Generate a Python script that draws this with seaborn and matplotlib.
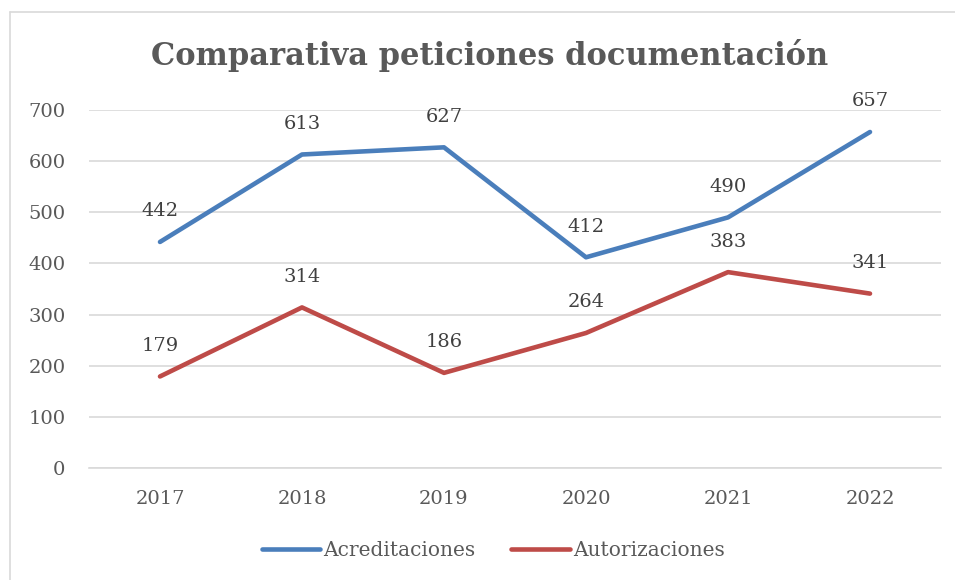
import matplotlib
matplotlib.use("Agg")
import matplotlib.pyplot as plt
import seaborn as sns
import pandas as pd
from matplotlib.lines import Line2D

years = ["2017", "2018", "2019", "2020", "2021", "2022"]
acreditaciones = [442, 613, 627, 412, 490, 657]
autorizaciones = [179, 314, 186, 264, 383, 341]
series_names = ["Acreditaciones", "Autorizaciones"]
colors = ["#4A7EBB", "#BE4B48"]

df = pd.DataFrame({
    "year": years * 2,
    "value": acreditaciones + autorizaciones,
    "serie": [series_names[0]] * len(years) + [series_names[1]] * len(years),
})
df["x"] = list(range(len(years))) * 2

sns.set_theme(style="white")
plt.rcParams["font.family"] = ["DejaVu Serif"]

fig = plt.figure(figsize=(9.55, 5.8), dpi=100)
ax = fig.add_axes([89/955, 1-468/580, (941-89)/955, (468-110)/580])

sns.lineplot(data=df, x="x", y="value", hue="serie", palette=colors,
             linewidth=3.3, ax=ax, legend=False, sort=False)
for line in ax.get_lines():
    line.set_solid_capstyle("round")
    line.set_solid_joinstyle("round")

for vals in (acreditaciones, autorizaciones):
    for i, v in enumerate(vals):
        ax.annotate(str(v), (i, v), xytext=(0, 15.5), textcoords="offset points",
                    ha="center", va="bottom", fontsize=14, color="#404040")

ax.set_xlim(-0.5, len(years) - 0.5)
ax.set_ylim(0, 700)
ax.set_yticks(range(0, 701, 100))
ax.set_xticks(range(len(years)))
ax.set_xticklabels(years)
ax.set_xlabel("")
ax.set_ylabel("")
ax.yaxis.grid(True, color="#D9D9D9", linewidth=1.2)
ax.xaxis.grid(False)
for s in ["top", "right", "left"]:
    ax.spines[s].set_visible(False)
ax.spines["bottom"].set_color("#D9D9D9")
ax.spines["bottom"].set_linewidth(1.2)
ax.tick_params(axis="both", length=0, labelsize=14, labelcolor="#595959")
ax.tick_params(axis="x", pad=16)
ax.tick_params(axis="y", pad=17)
for lbl in ax.get_yticklabels():
    lbl.set_horizontalalignment("right")

fig.text(490/955, 1-55/580, "Comparativa peticiones documentación", ha="center", va="center",
         fontsize=22, fontweight="bold", color="#595959")

handles = [Line2D([0], [0], color=c, linewidth=3.3, solid_capstyle="round") for c in colors]
fig.legend(handles, series_names, loc="center", bbox_to_anchor=(493/955, 1-551/580),
           ncol=2, frameon=False, fontsize=14.5, handlelength=2.9, handletextpad=0.15,
           columnspacing=1.8, labelcolor="#595959")

border = "#D9D9D9"
fig.add_artist(Line2D([10/955, 10/955], [0, 1-12/580], transform=fig.transFigure, color=border, linewidth=1.2))
fig.add_artist(Line2D([10/955, 1], [1-12/580, 1-12/580], transform=fig.transFigure, color=border, linewidth=1.2))

fig.savefig("out.png", dpi=100)
